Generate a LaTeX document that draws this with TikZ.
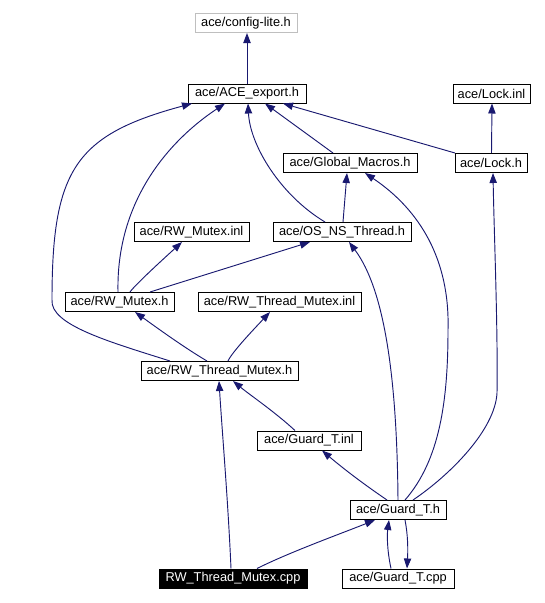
\documentclass[tikz,border=0pt]{standalone}
\usepackage{fontspec}
\setmainfont{Liberation Sans}
\usetikzlibrary{arrows.meta}
\definecolor{edgeblue}{HTML}{191970}
\definecolor{boxgray}{HTML}{BFBFBF}
\tikzset{
  filebox/.style={draw=black, line width=0.75pt, fill=white, inner sep=0pt, minimum height={19*0.75pt}, font=\fontsize{9.6pt}{11pt}\selectfont},
  graybox/.style={filebox, draw=boxgray},
  mainbox/.style={filebox, fill=black, text=white},
  bw/.style={minimum width={#1*0.75pt}},
  edge/.style={draw=edgeblue, line width=0.7pt, -{Triangle[length=7.5pt,width=5.5pt]}}
}
\begin{document}
\begin{tikzpicture}[x=0.75pt,y=-0.75pt]
\useasboundingbox (0,0) rectangle (544,603);
% nodes
\node[graybox, bw=102] (cfg) at (246,23) {ace/config-lite.h};
\node[filebox, bw=118] (ace) at (247,93.5) {ace/ACE\_export.h};
\node[filebox, bw=77] (lockinl) at (491.5,93.5) {ace/Lock.inl};
\node[filebox, bw=134] (gm) at (350,163) {ace/Global\_Macros.h};
\node[filebox, bw=72] (lockh) at (491,163) {ace/Lock.h};
\node[filebox, bw=115] (rwmi) at (191.5,232) {ace/RW\_Mutex.inl};
\node[filebox, bw=138] (os) at (342,232) {ace/OS\_NS\_Thread.h};
\node[filebox, bw=109] (rwmh) at (119.5,302) {ace/RW\_Mutex.h};
\node[filebox, bw=163] (rwtmi) at (279.5,302) {ace/RW\_Thread\_Mutex.inl};
\node[filebox, bw=157] (rwtmh) at (219.5,371) {ace/RW\_Thread\_Mutex.h};
\node[filebox, bw=104] (gti) at (309,440.5) {ace/Guard\_T.inl};
\node[filebox, bw=96] (gth) at (398,510) {ace/Guard\_T.h};
\node[mainbox, bw=148] (cpp) at (233,578.5) {RW\_Thread\_Mutex.cpp};
\node[filebox, bw=112] (gtc) at (398,578.5) {ace/Guard\_T.cpp};
% edges
\draw[edge] (ace.north) -- (ace.north |- cfg.south);
\draw[edge] ([shift={(-17,0)}]gm.north) -- ([shift={(18,0)}]ace.south);
\draw[edge] ([shift={(-36,0)}]lockh.north) -- ([shift={(36,0)}]ace.south);
\draw[edge] ([shift={(0.5,0)}]lockh.north) -- ([shift={(0.5,0)}]lockinl.south);
\draw[edge] ([shift={(-17,0)}]os.north) .. controls (280,195) and (250,145) .. ([shift={(1,0)}]ace.south);
\draw[edge] ([shift={(-1.5,0)}]rwmh.north) .. controls (116,200) and (170,140) .. ([shift={(-22,0)}]ace.south);
\draw[edge] ([shift={(-49.5,0)}]rwtmh.north) .. controls (110,342) and (50,325) .. (52,300) .. controls (52,170) and (75,135) .. ([shift={(-55,0)}]ace.south);
\draw[edge] (gth.north) .. controls (397,380) and (385,290) .. ([shift={(7,0)}]os.south);
\draw[edge] ([shift={(7,0)}]gth.north) .. controls (440,460) and (448,400) .. (448,330) .. controls (450,260) and (420,210) .. ([shift={(15,0)}]gm.south);
\draw[edge] ([shift={(15,0)}]gth.north) .. controls (450,475) and (495,430) .. (497,393) .. controls (498,330) and (494,230) .. ([shift={(2,0)}]lockh.south);
\draw[edge] ([shift={(1,0)}]os.north) -- ([shift={(-3,0)}]gm.south);
\draw[edge] ([shift={(10.5,0)}]rwmh.north) .. controls (135,285) and (160,262) .. ([shift={(-9.5,0)}]rwmi.south);
\draw[edge] ([shift={(30.5,0)}]rwmh.north) -- ([shift={(-32,0)}]os.south);
\draw[edge] ([shift={(-12.5,0)}]rwtmh.north) .. controls (185,348) and (160,330) .. ([shift={(15.5,0)}]rwmh.south);
\draw[edge] ([shift={(8.5,0)}]rwtmh.north) .. controls (232,352) and (255,328) .. ([shift={(-9.5,0)}]rwtmi.south);
\draw[edge] ([shift={(-14,0)}]gti.north) .. controls (275,412) and (250,395) .. ([shift={(13.5,0)}]rwtmh.south);
\draw[edge] ([shift={(-11,0)}]gth.north) .. controls (365,485) and (345,470) .. ([shift={(13,0)}]gti.south);
\draw[edge] ([shift={(-2,0)}]cpp.north) .. controls (228,500) and (222,430) .. ([shift={(-0.5,0)}]rwtmh.south);
\draw[edge] ([shift={(24,0)}]cpp.north) .. controls (290,552) and (340,534) .. ([shift={(-23,0)}]gth.south);
\draw[edge] ([shift={(-7,0)}]gtc.north) .. controls (387,550) and (387,535) .. ([shift={(-9,0)}]gth.south);
\draw[edge] ([shift={(7,0)}]gth.south) .. controls (408,535) and (408,550) .. ([shift={(9,0)}]gtc.north);
\end{tikzpicture}
\end{document}
